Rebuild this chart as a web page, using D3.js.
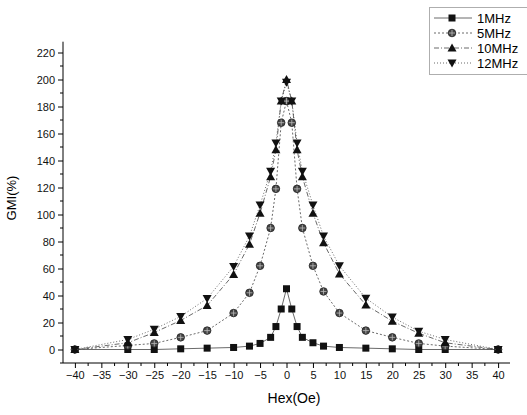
<!DOCTYPE html>
<html><head><meta charset="utf-8">
<script src="https://cdn.jsdelivr.net/npm/d3@7/dist/d3.min.js"></script>
<style>body{margin:0;background:#fff}svg{display:block;font-family:Arial,"Liberation Sans",sans-serif}</style>
</head><body>
<svg id="c" width="527" height="415"></svg>
<script>
const x1 = [-40,-30,-25,-20,-15,-10,-7,-5,-3,-2,-1,0,1,2,3,5,7,10,15,20,25,30,40];
const y1MHz = [0,0,0,0.5,1,1.5,2.5,4.5,9,17,30,45,30,17,9,5,2.5,1.5,1,0.5,0,0,0];
const x5 = [-40,-30,-25,-20,-15,-10,-7,-5,-3,-2,-1,0,1,2,3,5,7,10,15,20,25,30,40];
const y5MHz = [0,3,4.5,9,14,27,42,62,90,119,168,184,168,119,90,62,43,27,14,9,4.5,2.5,0];
const x10 = [-40,-30,-25,-20,-15,-10,-7,-5,-3,-2,-1,0,1,2,3,5,7,10,15,20,25,30,40];
const y10MHz = [0,5,12.6,21.5,32.6,55.6,78,101,128,148,184,200,184,148,128,101,79,56,33,21,12,5,0];
const x12 = [-40,-30,-25,-20,-15,-10,-7,-5,-3,-2,-1,0,1,2,3,5,7,10,15,20,25,30,40];
const y12MHz = [0,7.4,15,24.5,37.8,61.5,84,107,132,153,184,198,184,153,132,107,84,62,38,24,13.5,7.4,0];
const seriesNames = ["1MHz","5MHz","10MHz","12MHz"];
const xTicks = [-40,-35,-30,-25,-20,-15,-10,-5,0,5,10,15,20,25,30,35,40];
const yTicks = [0,20,40,60,80,100,120,140,160,180,200,220];

const svg = d3.select("#c");
const x = d3.scaleLinear().domain([-42.25,42.25]).range([63,510]);
const y = d3.scaleLinear().domain([-10,228]).range([363,41.7]);

const series = [
  {name:seriesNames[0], xs:x1, ys:y1MHz, sym:"square", dash:null},
  {name:seriesNames[1], xs:x5, ys:y5MHz, sym:"circle", dash:"2,2"},
  {name:seriesNames[2], xs:x10, ys:y10MHz, sym:"tri", dash:"5,2,1,2"},
  {name:seriesNames[3], xs:x12, ys:y12MHz, sym:"itri", dash:"1,2"}
];

// axes
const xAxis = d3.axisBottom(x).tickValues(xTicks).tickSize(5).tickPadding(3).tickFormat(d3.format("d"));
const gx = svg.append("g").attr("transform","translate(0,363)").call(xAxis);
gx.select(".domain").attr("d","M63,0H510");
const xMinor = d3.range(-42.5,43,2.5).filter(v=>v>=-42.25&&v<=42.25&&!xTicks.includes(v));
gx.selectAll(".minor").data(xMinor).enter().append("line").attr("x1",d=>x(d)).attr("x2",d=>x(d)).attr("y1",0).attr("y2",3).attr("stroke","#000");
const yAxis = d3.axisLeft(y).tickValues(yTicks).tickSize(5).tickPadding(3).tickFormat(d3.format("d"));
const gy = svg.append("g").attr("transform","translate(63,0)").call(yAxis);
gy.select(".domain").attr("d","M0,"+y(228)+"V363");
const yMinor = d3.range(-10,228,10).filter(v=>!yTicks.includes(v));
gy.selectAll(".minor").data(yMinor).enter().append("line").attr("x1",-3).attr("x2",0).attr("y1",d=>y(d)).attr("y2",d=>y(d)).attr("stroke","#000");
svg.selectAll(".tick text").attr("font-size",11).attr("fill","#111");
svg.selectAll(".tick line").attr("stroke","#000");
svg.selectAll(".domain").attr("stroke","#000");

// titles
svg.append("text").attr("transform","translate(16,198) rotate(-90)").attr("text-anchor","middle").attr("font-size",13).text("GMI(%)");
svg.append("text").attr("x",294).attr("y",403).attr("text-anchor","middle").attr("font-size",14).text("Hex(Oe)");

function drawSym(g, sym, cx, cy){
  if(sym==="square"){
    g.append("rect").attr("x",cx-3.5).attr("y",cy-3.5).attr("width",7).attr("height",7).attr("fill","#111");
  } else if(sym==="circle"){
    g.append("circle").attr("cx",cx).attr("cy",cy).attr("r",3.8).attr("fill","#444").attr("stroke","#222").attr("stroke-width",0.8);
    g.append("path").attr("d",`M${cx-3},${cy}H${cx+3}M${cx},${cy-3}V${cy+3}`).attr("stroke","#bbb").attr("stroke-width",0.8);
  } else if(sym==="tri"){
    g.append("path").attr("d",`M${cx},${cy-4.5}L${cx+4.5},${cy+3.5}L${cx-4.5},${cy+3.5}Z`).attr("fill","#111");
  } else {
    g.append("path").attr("d",`M${cx},${cy+4.5}L${cx+4.5},${cy-3.5}L${cx-4.5},${cy-3.5}Z`).attr("fill","#111");
  }
}

const line = d3.line().x(d=>x(d[0])).y(d=>y(d[1]));
series.forEach(s=>{
  const pts = s.xs.map((v,i)=>[v,s.ys[i]]);
  const p = svg.append("path").datum(pts).attr("d",line).attr("fill","none").attr("stroke","#444").attr("stroke-width",0.8);
  if(s.dash) p.attr("stroke-dasharray",s.dash);
});
series.forEach(s=>{
  const g = svg.append("g");
  s.xs.forEach((v,i)=>drawSym(g,s.sym,x(v),y(s.ys[i])));
});

// legend
const lg = svg.append("g");
lg.append("rect").attr("x",429.5).attr("y",7.5).attr("width",110).attr("height",67).attr("fill","#fff").attr("stroke","#333").attr("stroke-width",0.8).attr("stroke-dasharray","1,1");
series.forEach((s,i)=>{
  const yy = 18 + i*15;
  const l = lg.append("line").attr("x1",434).attr("x2",472).attr("y1",yy).attr("y2",yy).attr("stroke","#444").attr("stroke-width",0.8);
  if(s.dash) l.attr("stroke-dasharray",s.dash);
  drawSym(lg,s.sym,452,yy);
  lg.append("text").attr("x",477).attr("y",yy+5).attr("font-size",13).text(s.name);
});
</script>
</body></html>
